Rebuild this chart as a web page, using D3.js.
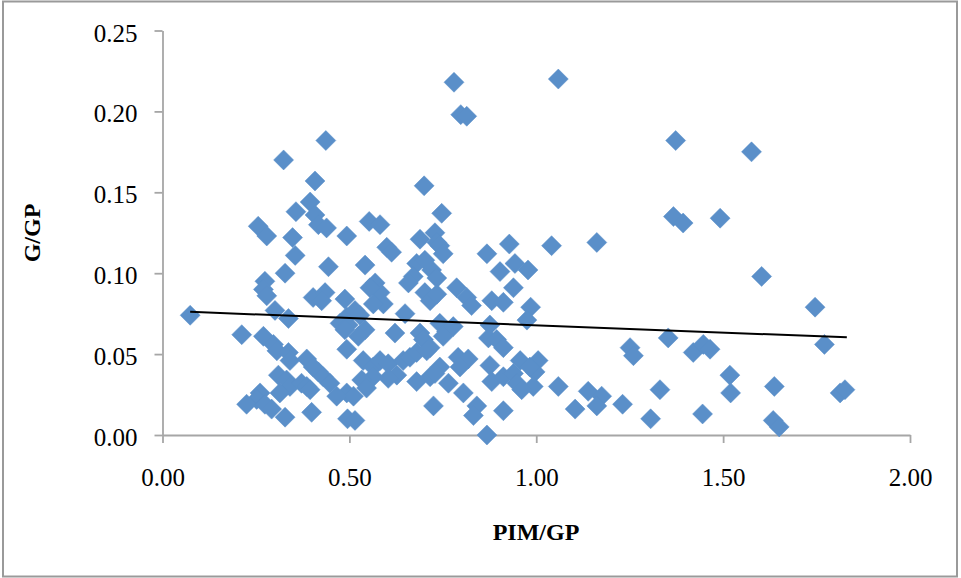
<!DOCTYPE html>
<html>
<head>
<meta charset="utf-8">
<script src="https://cdn.jsdelivr.net/npm/d3@7"></script>
<style>
  body { margin: 0; background: #fff; }
  text { font-family: "Liberation Serif", "DejaVu Serif", serif; }
</style>
</head>
<body>
<div id="chart"></div>
<script>
// values: PIM/GP (x) and G/GP (y)
let pimGp = [
  0.437,0.324,0.408,0.395,0.357,0.256,0.279,0.408,0.417,0.439,0.493,0.553,0.582,0.348,0.689,0.729,0.734,0.600,0.868,
  0.780,0.798,0.814,0.700,0.747,1.059,1.373,1.367,1.393,1.492,1.576,
  1.603,1.746,1.771,1.518,1.520,1.637,1.813,1.826,1.634,1.650,
  1.041,1.162,0.978,0.985,0.975,1.251,1.260,1.353,1.420,1.447,1.465,1.005,0.997,0.992,1.059,1.139,1.175,1.162,1.104,1.231,1.306,1.331,1.445,
  0.613,0.542,0.742,0.751,0.680,0.702,0.720,0.671,0.734,0.658,0.928,0.903,0.943,0.939,0.881,0.912,0.787,0.814,0.827,
  0.569,0.582,0.555,0.591,0.564,0.488,0.493,0.515,0.528,0.649,0.702,0.716,0.734,0.475,0.497,0.488,0.542,0.524,0.622,
  0.689,0.698,0.742,0.760,0.778,0.751,0.876,0.872,0.894,0.912,0.493,0.537,0.564,0.582,0.604,0.644,0.662,0.680,0.707,
  0.716,0.627,0.604,0.564,0.533,0.546,0.680,0.716,0.742,0.729,0.765,0.791,0.818,0.796,0.805,0.876,0.881,0.912,0.939,
  0.948,0.961,0.957,0.983,0.493,0.511,0.495,0.515,0.725,0.841,0.832,0.912,0.868,
  0.355,0.444,0.328,0.274,0.270,0.279,0.403,0.435,0.426,0.301,0.337,0.074,0.212,0.270,0.297,0.306,0.337,0.341,0.386,
  0.403,0.417,0.430,0.448,0.310,0.332,0.341,0.314,0.372,0.386,0.395,0.261,0.252,0.225,0.274,0.292,0.328,0.399,0.466
];
let gGp = [
  0.182,0.170,0.157,0.144,0.138,0.129,0.123,0.136,0.130,0.128,0.123,0.132,0.130,0.122,0.121,0.125,0.119,0.116,0.112,
  0.218,0.198,0.197,0.154,0.137,0.220,0.182,0.135,0.131,0.134,0.175,
  0.098,0.079,0.056,0.037,0.026,0.030,0.026,0.028,0.009,0.005,
  0.117,0.119,0.102,0.079,0.071,0.054,0.049,0.060,0.051,0.056,0.053,0.046,0.039,0.030,0.030,0.027,0.024,0.018,0.016,0.019,0.010,0.028,0.013,
  0.113,0.105,0.117,0.112,0.106,0.108,0.102,0.098,0.097,0.094,0.118,0.101,0.106,0.091,0.083,0.082,0.091,0.085,0.080,
  0.094,0.088,0.091,0.081,0.081,0.084,0.073,0.077,0.074,0.075,0.088,0.083,0.087,0.069,0.068,0.065,0.065,0.061,0.063,
  0.063,0.059,0.069,0.064,0.067,0.061,0.068,0.060,0.059,0.054,0.053,0.046,0.042,0.046,0.044,0.046,0.048,0.051,0.052,
  0.054,0.037,0.035,0.036,0.034,0.029,0.033,0.036,0.042,0.038,0.032,0.048,0.047,0.042,0.026,0.043,0.033,0.036,0.038,
  0.032,0.028,0.046,0.042,0.026,0.024,0.010,0.009,0.018,0.018,0.012,0.015,0.000,
  0.111,0.104,0.100,0.095,0.090,0.086,0.085,0.088,0.083,0.077,0.072,0.074,0.062,0.061,0.056,0.052,0.051,0.046,0.047,
  0.042,0.039,0.036,0.032,0.037,0.034,0.030,0.026,0.032,0.030,0.028,0.026,0.022,0.019,0.019,0.016,0.011,0.014,0.024
];
let xTicks = [0, 0.5, 1, 1.5, 2];
let yTicks = [0, 0.05, 0.10, 0.15, 0.20, 0.25];
// linear trendline
let trendX = [0.074, 1.831];
let trendSlope = -0.00899;
let trendIntercept = 0.0768;

let width = 961, height = 578;
let svg = d3.select("#chart").append("svg")
    .attr("width", width)
    .attr("height", height);

// outer chart border
svg.append("rect")
    .attr("x", 3).attr("y", 1.5)
    .attr("width", 954).attr("height", 575)
    .attr("fill", "none")
    .attr("stroke", "#9a9a9a")
    .attr("stroke-width", 2);

let x = d3.scaleLinear().domain([0, 2]).range([162.5, 910]);
let y = d3.scaleLinear().domain([0, 0.25]).range([435, 30.5]);
let fmt = d3.format(".2f");

let xAxis = svg.append("g")
    .attr("transform", "translate(0,435)")
    .call(d3.axisBottom(x).tickValues(xTicks).tickFormat(fmt).tickSize(8).tickSizeOuter(0).tickPadding(25));
let yAxis = svg.append("g")
    .attr("transform", "translate(162.5,0)")
    .call(d3.axisLeft(y).tickValues(yTicks).tickFormat(fmt).tickSize(8).tickSizeOuter(0).tickPadding(17));

[xAxis, yAxis].forEach(ax => {
    ax.select(".domain").attr("stroke", "#a6a6a6").attr("stroke-width", 1.8);
    ax.selectAll(".tick line").attr("stroke", "#a6a6a6").attr("stroke-width", 1.8);
    ax.selectAll("text")
        .attr("fill", "#000")
        .style("font-family", "'Liberation Serif', serif")
        .style("font-size", "25px");
});
yAxis.selectAll("text").attr("dy", "0.42em");

// points
let points = pimGp.map((v, i) => ({x: v, y: gGp[i]}));
svg.append("g").selectAll("path").data(points).enter().append("path")
    .attr("d", "M0,-10L10,0L0,10L-10,0Z")
    .attr("transform", d => "translate(" + x(d.x) + "," + y(d.y) + ")")
    .attr("fill", "#5a8fc9")
    .attr("stroke", "#5a8fc9")
    .attr("stroke-width", 0.5)
    .attr("stroke-linejoin", "round");

// trendline
svg.append("path")
    .attr("d", d3.line()(trendX.map(v => [x(v), y(trendIntercept + trendSlope * v)])))
    .attr("stroke", "#000")
    .attr("stroke-width", 2)
    .attr("fill", "none");

// axis titles
svg.append("text")
    .attr("transform", "translate(40,233) rotate(-90)")
    .attr("text-anchor", "middle")
    .style("font-weight", "bold")
    .style("font-size", "24px")
    .text("G/GP");
svg.append("text")
    .attr("x", 536).attr("y", 540)
    .attr("text-anchor", "middle")
    .style("font-weight", "bold")
    .style("font-size", "24px")
    .text("PIM/GP");
</script>
</body>
</html>
